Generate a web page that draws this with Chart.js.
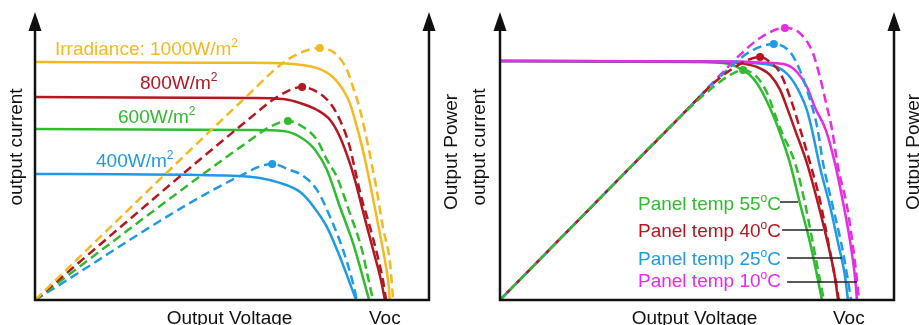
<!DOCTYPE html>
<html>
<head>
<meta charset="utf-8">
<script src="https://cdn.jsdelivr.net/npm/chart.js@4.4.1/dist/chart.umd.min.js"></script>
<style>
body { margin: 0; background: #fff; }
#wrap { position: relative; width: 919px; height: 325px; overflow: hidden; }
canvas { position: absolute; top: 0; }
#left { left: 0; }
#right { left: 460px; }
</style>
</head>
<body>
<div id="wrap">
  <canvas id="left" width="470" height="325"></canvas>
  <canvas id="right" width="459" height="325"></canvas>
</div>
<script>
// voltage and current/power in relative units (0..100 of the axis box)
// left panel: irradiance
const irr1000Current = [[0,82.9],[41.9,82.7],[54.6,82.7],[62.9,82.5],[71.6,80.8],[75.6,77.7],[78.2,73.2],[79.9,68.6],[81.7,60.3],[83.2,52.3],[85.0,40.8],[87.0,26.8],[88.8,13.9],[89.6,7.0],[90.1,0]];
const irr1000Power = [[0,0],[54.6,72.1],[62.9,82.6],[67.3,86.1],[72.3,87.8],[76.6,85.4],[79.2,80.1],[80.7,74.2],[82.5,66.2],[84.5,54.0],[85.5,47.0],[86.5,40.1],[88.3,25.4],[90.1,12.9],[90.9,0]];
const irr800Current = [[0,70.7],[54.6,70.4],[62.9,70.0],[67.3,68.6],[71.6,66.2],[74.9,62.7],[77.4,56.8],[79.9,47.7],[81.2,41.8],[83.8,27.9],[86.3,15.0],[87.8,7.0],[88.8,0]];
const irr800Power = [[0,0],[54.6,63.4],[61.4,70.7],[67.8,74.2],[71.6,72.5],[74.9,68.6],[77.4,62.7],[79.9,53.3],[81.5,43.6],[83.0,34.8],[84.5,27.9],[87.0,15.0],[88.3,7.0],[89.1,0]];
const irr600Current = [[0,59.6],[54.6,59.2],[62.9,58.9],[67.3,56.8],[71.1,52.3],[74.1,45.3],[77.4,32.4],[80.7,19.9],[83.2,8.0],[84.8,0]];
const irr600Power = [[0,0],[54.6,55.7],[59.6,60.3],[64.2,62.4],[68.0,60.3],[71.6,55.7],[74.1,48.8],[76.6,42.9],[79.9,30.3],[83.0,17.4],[84.5,8.0],[85.8,0]];
const irr400Current = [[0,43.9],[52.0,43.2],[62.2,40.8],[67.3,37.6],[70.6,32.7],[74.1,25.4],[77.4,15.0],[79.9,5.9],[81.5,0]];
const irr400Power = [[0,0],[52.0,43.2],[60.2,47.4],[64.7,45.3],[67.3,43.9],[71.6,38.3],[74.9,28.9],[78.2,17.4],[80.7,5.9],[81.7,0]];

// right panel: panel temperature
const temp55Current = [[0,83.3],[45.7,82.9],[56.6,82.6],[61.7,80.1],[64.2,77.3],[66.7,72.1],[69.5,63.8],[70.8,59.2],[73.6,47.7],[76.1,33.8],[78.7,19.9],[80.7,7.0],[81.7,0]];
const temp55Power = [[0,0],[25.4,35.5],[45.7,63.8],[54.1,74.2],[58.4,78.4],[61.7,80.1],[65.2,77.7],[67.8,72.1],[70.3,62.7],[71.6,58.2],[74.9,47.7],[77.4,33.8],[79.4,19.9],[81.2,7.0],[82.2,0]];
const temp40Current = [[0,83.3],[45.7,83.1],[60.2,82.6],[65.2,81.2],[68.5,78.4],[71.1,73.2],[72.8,67.2],[74.9,59.2],[77.9,47.7],[80.5,34.8],[83.0,20.9],[85.0,8.0],[85.8,0]];
const temp40Power = [[0,0],[25.4,35.5],[45.7,63.8],[54.6,76.0],[60.9,82.2],[66.0,84.7],[68.5,82.9],[71.1,79.1],[73.6,70.7],[76.1,59.9],[78.7,47.7],[81.2,34.8],[83.2,20.9],[85.0,8.0],[86.0,0]];
const temp25Current = [[0,83.3],[55.8,83.1],[64.2,82.6],[70.3,81.2],[73.6,77.7],[76.1,72.1],[77.9,66.2],[79.2,59.2],[81.2,46.3],[83.8,32.4],[85.8,19.9],[87.6,8.0],[88.3,0]];
const temp25Power = [[0,0],[25.4,35.5],[45.7,63.8],[55.8,77.7],[60.2,83.3],[64.2,87.1],[69.5,89.2],[73.6,86.4],[76.1,80.1],[78.7,69.7],[80.5,60.3],[82.0,47.7],[84.5,32.4],[86.8,18.5],[88.3,7.0],[89.1,0]];
const temp10Current = [[0,83.3],[60.9,83.1],[66.7,82.7],[72.8,81.9],[75.6,79.1],[77.9,74.2],[79.9,67.2],[82.7,59.2],[85.0,47.7],[87.1,33.8],[88.8,20.9],[90.1,8.0],[90.6,0]];
const temp10Power = [[0,0],[25.4,35.5],[45.7,63.8],[55.1,77.3],[60.9,85.4],[66.0,91.3],[72.3,94.8],[76.1,93.0],[79.4,86.1],[81.2,77.7],[83.0,67.2],[84.3,59.2],[85.8,46.3],[88.1,32.4],[89.6,18.5],[90.6,7.0],[91.1,0]];

const irradianceLabels = ['Irradiance: 1000W/m', '800W/m', '600W/m', '400W/m'];
const tempLabels = ['55', '40', '25', '10'];

const YELLOW = '#f5b920';
const RED = '#b5161f';
const GREEN = '#2fbc2f';
const BLUE = '#1f9ae6';
const MAGENTA = '#e92ae6';
const FONT = '"Liberation Sans", Arial, sans-serif';

function line(points, color, dashed, order, dashOffset) {
    let peak = -1;
    if (dashed) {
        const ys = points.map(p => p[1]);
        peak = ys.indexOf(Math.max(...ys));
    }
    return {
        data: points.map(p => ({ x: p[0], y: p[1] })),
        borderColor: color,
        backgroundColor: color,
        pointBackgroundColor: color,
        pointBorderWidth: 0,
        borderWidth: 2.5,
        borderDash: dashed ? [9, 5] : [],
        borderDashOffset: dashOffset || 0,
        pointRadius: points.map((p, i) => i === peak ? 4 : 0),
        cubicInterpolationMode: 'monotone',
        fill: false,
        clip: false,
        order: order
    };
}

function drawParts(ctx, parts, x, y, color) {
    ctx.fillStyle = color;
    ctx.textAlign = 'left';
    ctx.textBaseline = 'alphabetic';
    let cx = x;
    parts.forEach(p => {
        ctx.font = (p.sup ? '12px ' : '19px ') + FONT;
        ctx.fillText(p.t, cx, p.sup ? y - 8 : y);
        cx += ctx.measureText(p.t).width;
    });
}

function rotated(ctx, text, x, y) {
    ctx.save();
    ctx.translate(x, y);
    ctx.rotate(-Math.PI / 2);
    ctx.font = '19px ' + FONT;
    ctx.fillStyle = '#111';
    ctx.textAlign = 'center';
    ctx.textBaseline = 'alphabetic';
    ctx.fillText(text, 0, 0);
    ctx.restore();
}

function frame(opts) {
    return {
        id: 'frame',
        afterDatasetsDraw(chart) {
            const ctx = chart.ctx;
            const a = chart.chartArea;
            ctx.save();
            ctx.strokeStyle = '#111';
            ctx.fillStyle = '#111';
            ctx.lineWidth = 2.5;
            ctx.beginPath();
            ctx.moveTo(a.left, a.top + 16);
            ctx.lineTo(a.left, a.bottom);
            ctx.lineTo(a.right, a.bottom);
            ctx.lineTo(a.right, a.top + 16);
            ctx.stroke();
            [a.left, a.right].forEach(x => {
                ctx.beginPath();
                ctx.moveTo(x, a.top - 1);
                ctx.lineTo(x - 6.5, a.top + 18);
                ctx.lineTo(x + 6.5, a.top + 18);
                ctx.closePath();
                ctx.fill();
            });
            // axis titles
            ctx.font = '19px ' + FONT;
            ctx.textBaseline = 'alphabetic';
            ctx.textAlign = 'center';
            ctx.fillText('Output Voltage', opts.voltX, 324);
            ctx.textAlign = 'left';
            ctx.fillText('Voc', opts.vocX, 324);
            rotated(ctx, 'output current', opts.currentX, 147);
            rotated(ctx, 'Output Power', opts.powerX, 152);
            // series labels
            opts.labels.forEach(l => drawParts(ctx, l.parts, l.x, l.y, l.color));
            // leader lines
            ctx.strokeStyle = '#222';
            ctx.lineWidth = 1.5;
            (opts.leaders || []).forEach(l => {
                ctx.beginPath();
                ctx.moveTo(l[0], l[2]);
                ctx.lineTo(l[1], l[2]);
                ctx.stroke();
            });
            ctx.restore();
        }
    };
}

function options(pad) {
    return {
        responsive: false,
        animation: false,
        layout: { padding: pad },
        plugins: { legend: { display: false }, tooltip: { enabled: false } },
        scales: {
            x: { type: 'linear', min: 0, max: 100, display: false },
            y: { type: 'linear', min: 0, max: 100, display: false }
        }
    };
}

const irrColors = [YELLOW, RED, GREEN, BLUE];
const leftLabelPos = [[55, 55], [140, 89], [118, 123], [96, 167]];

new Chart(document.getElementById('left'), {
    type: 'line',
    data: {
        datasets: [
            line(irr1000Current, YELLOW, false, 0),
            line(irr1000Power, YELLOW, true, 1),
            line(irr800Current, RED, false, 2),
            line(irr800Power, RED, true, 3),
            line(irr600Current, GREEN, false, 4),
            line(irr600Power, GREEN, true, 5),
            line(irr400Current, BLUE, false, 6),
            line(irr400Power, BLUE, true, 7)
        ]
    },
    options: options({ left: 35, right: 41, top: 13, bottom: 25 }),
    plugins: [frame({
        voltX: 229.5, vocX: 369, currentX: 22, powerX: 457,
        labels: irradianceLabels.map((t, i) => ({
            parts: [{ t: t }, { t: '2', sup: true }],
            x: leftLabelPos[i][0], y: leftLabelPos[i][1], color: irrColors[i]
        }))
    })]
});

const tempColors = [GREEN, RED, BLUE, MAGENTA];
const rightLabelY = [210, 237, 265, 287];

new Chart(document.getElementById('right'), {
    type: 'line',
    data: {
        datasets: [
            line(temp55Power, GREEN, true, 0, 0),
            line(temp40Power, RED, true, 1, 4),
            line(temp25Power, BLUE, true, 2, 8),
            line(temp10Power, MAGENTA, true, 3, 11),
            line(temp10Current, MAGENTA, false, 4),
            line(temp25Current, BLUE, false, 5),
            line(temp40Current, RED, false, 6),
            line(temp55Current, GREEN, false, 7)
        ]
    },
    options: options({ left: 40, right: 25, top: 13, bottom: 25 }),
    plugins: [frame({
        voltX: 234.5, vocX: 373, currentX: 25, powerX: 459,
        labels: tempLabels.map((t, i) => ({
            parts: [{ t: 'Panel temp ' + t }, { t: 'o', sup: true }, { t: 'C' }],
            x: 178, y: rightLabelY[i], color: tempColors[i]
        })),
        leaders: [[320, 338, 202], [322, 363, 230], [327, 382, 258], [327, 397, 282]]
    })]
});
</script>
</body>
</html>
